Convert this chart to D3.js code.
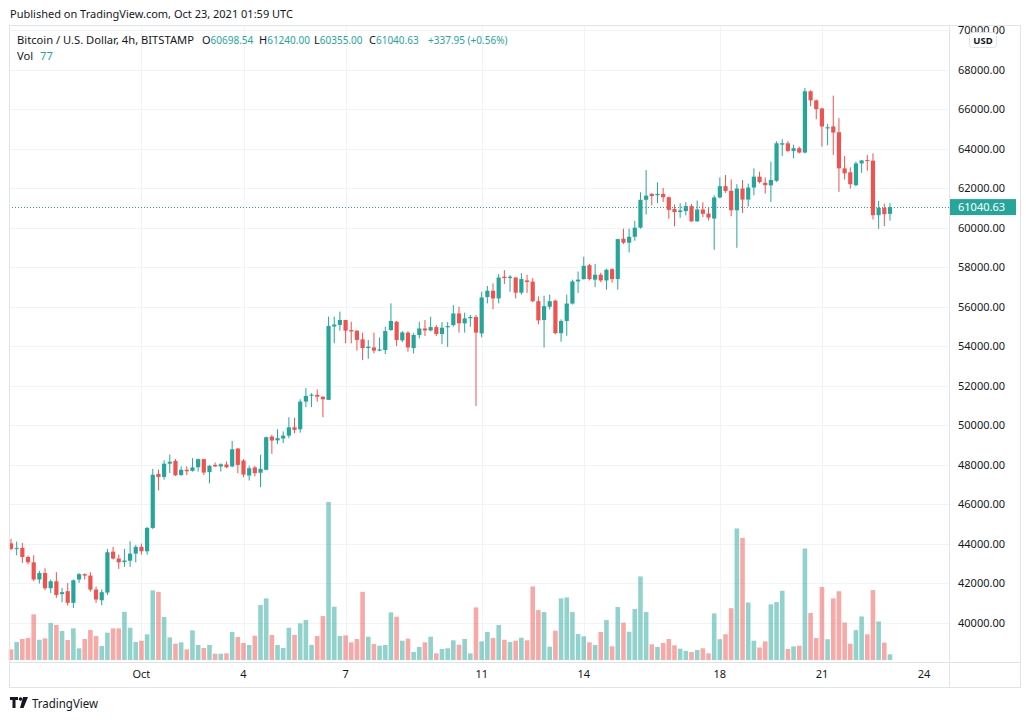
<!DOCTYPE html>
<html><head><meta charset="utf-8">
<script src="https://cdn.jsdelivr.net/npm/d3@7"></script>
<style>
body{margin:0;background:#fff;}
svg{display:block;font-family:"Noto Sans",sans-serif;}
</style>
</head><body>
<svg id="chart" width="1026" height="720"></svg>
<script>
// ---- data (4h candles, BITSTAMP BTC/USD) ----
const firstCandleUTC = Date.UTC(2021, 8, 27, 4); // Sep 27 04:00 UTC
const candleHours = 4;
const opens = [44030,43750,43800,43340,43070,42200,42530,41760,42110,41460,
41610,41020,42200,42470,42400,41690,41150,41540,43610,43260,
43080,43150,43510,43850,43630,44810,47540,47390,48060,48200,
47490,47750,47700,47880,48290,47630,48000,47920,48020,47920,
48830,48220,47460,47870,47600,47750,49430,49240,49330,49480,
49900,49800,51200,51500,51540,51450,51290,55000,55080,55330,
54820,54790,54350,53910,53940,53780,53810,54820,55240,54300,
54690,53910,54570,54900,54800,54970,54620,54960,55070,55660,
55160,55420,55480,54650,56490,56810,56420,57520,57450,57480,
56710,57330,57270,56280,55330,56000,56310,54660,55280,56160,
57280,57400,58100,57370,57620,57330,57900,57400,59440,59240,
59540,60000,61410,61710,61640,61710,61540,60940,60790,60840,
61090,60320,60920,60710,60460,61530,62100,61860,60880,61980,
61420,62030,62580,62270,62140,62370,64200,64270,63880,64020,
63800,66900,66440,66030,65020,65120,64830,63000,62800,62150,
63250,63420,63390,60630,61000,60698.54];
const highs = [44250,44120,44050,43410,43430,42640,42770,42200,42570,41780,
42030,42200,42530,42510,42570,41840,41700,43750,43850,43460,
43750,44130,43950,44020,44860,47790,47760,48230,48520,48300,
47920,47920,48340,48320,48300,48000,48120,48080,48170,49210,
48830,48290,47950,47950,48510,49430,49520,49800,49690,50410,
50390,51320,51880,51630,51820,51450,55500,55500,55750,55330,
55240,54800,54690,54320,54690,54450,54990,56170,55280,54770,
54760,54660,55240,55330,55490,55070,55220,55220,56080,56000,
55700,55590,55590,56760,57050,57180,57650,57850,57600,57480,
57700,57620,57450,56530,56560,56610,56360,55360,56610,57370,
57780,58530,58170,58170,57720,57920,57950,59440,59950,59950,
60340,61790,62910,61740,62290,62010,61570,61170,61240,61290,
61200,61370,61280,61050,61640,62540,62660,62440,62200,62410,
62230,63000,62830,62540,63340,64370,64470,64370,64200,64100,
67070,66950,66480,66050,65250,66680,65540,63630,63050,63340,
63420,63680,63760,61360,61220,61240];
const lows = [43680,43420,43040,42970,42110,42000,41660,41520,41270,41050,
40880,40760,42030,42200,41590,41020,40900,41420,43210,42740,
42840,42840,43070,43460,43460,44760,46710,47250,47590,47440,
47440,47490,47660,47660,47490,47070,47900,47660,47830,47880,
47580,47380,47210,47410,46870,47720,48560,49060,49100,49350,
49600,49630,50920,50920,51200,50410,51290,54150,54790,54150,
54150,53780,53300,53370,53640,53740,53610,54780,54010,54210,
53730,53640,54400,54520,54760,54520,54110,53970,54990,54690,
54690,54990,50980,54450,56170,55870,56170,57150,56760,56420,
56610,56700,56230,55110,53940,55860,54610,54230,54530,56110,
56700,57370,57330,57000,57240,56860,57220,56860,59170,58750,
59340,59950,60670,61120,61240,61300,60450,60070,60500,60620,
60300,60300,60530,60370,58880,61480,61760,60580,58980,60750,
61080,61640,62240,61730,61300,62320,63630,63830,63510,63760,
63760,66140,65490,64100,64170,63680,61810,62440,61980,62100,
62780,62880,60410,59950,60080,60355];
const closes = [43750,43800,43340,43070,42200,42530,41760,42110,41420,41560,
41020,42160,42470,42400,41690,41190,41560,43580,43260,43070,
43160,43510,43850,43630,44810,47500,47390,48060,48160,47470,
47750,47680,47870,48290,47610,47950,47920,48030,47880,48790,
48000,47510,47830,47580,47800,49400,49230,49350,49480,49900,
49770,51200,51490,51550,51450,51320,55030,55100,55330,54790,
54750,54320,53910,53980,53780,53840,54770,55280,54320,54700,
53940,54570,54900,54800,54970,54620,54940,55020,55660,55160,
55410,55480,54690,56470,56810,56420,57480,57450,57520,56710,
57400,57250,56280,55310,56030,56280,54660,55280,56160,57280,
57370,58070,57400,57620,57330,57870,57400,59420,59240,59540,
60000,61410,61620,61600,61710,61540,60900,60790,60870,61090,
60320,60920,60700,60510,61530,62100,61860,60880,61980,61420,
62030,62580,62310,62150,62410,64270,64270,63880,64020,63800,
66900,66440,66000,65120,65080,64810,63000,62750,62200,63250,
63400,63370,60630,61000,60680,61040.63];
const volumes = [144,243,284,297,617,274,293,500,473,392,
270,428,158,284,405,324,189,369,428,428,
652,436,243,261,347,941,922,581,306,220,
239,144,401,203,162,203,85,85,90,378,
311,230,203,328,743,833,338,203,162,436,
338,495,540,203,324,594,2137,720,324,333,
239,284,922,315,216,193,203,644,585,261,
288,108,176,239,315,90,149,158,266,207,
284,90,711,252,378,297,473,274,243,261,
301,266,995,675,648,180,396,833,846,648,
351,320,239,203,378,540,185,716,504,382,
689,1130,648,212,176,230,284,198,153,122,
108,135,158,90,630,281,348,701,1779,1651,
778,261,169,251,752,783,936,149,184,194,
1508,635,297,987,281,833,930,506,220,404,
589,348,945,521,235,77];
const priceTicks = [40000,42000,44000,46000,48000,50000,52000,54000,56000,58000,60000,62000,64000,66000,68000,70000];
const timeTickDates = ["2021-10-01","2021-10-04","2021-10-07","2021-10-11","2021-10-14","2021-10-18","2021-10-21","2021-10-24"];
const timeTickLabels = ["Oct","4","7","11","14","18","21","24"];
const lastPrice = 61040.63;
const legendTitle = "Bitcoin / U.S. Dollar, 4h, BITSTAMP";
const legendKeys = ["O","H","L","C",""];
const legendVals = ["60698.54","61240.00","60355.00","61040.63","+337.95 (+0.56%)"];
const volLabel = "Vol", volValue = "77";

// ---- styles ----
const UP = "#26a69a", DOWN = "#ef5350";
const UPV = "rgba(38,166,154,0.5)", DOWNV = "rgba(239,83,80,0.5)";
const GRID = "#f0f3fa", BORDER = "#e0e3eb", TXT = "#131722";

const svg = d3.select("#chart");
const paneL = 9, paneR = 949, paneT = 25, paneB = 662, frameR = 1020, frameB = 687;

const candles = opens.map((o, i) => ({
  t: new Date(firstCandleUTC + i * candleHours * 3600e3),
  o, h: highs[i], l: lows[i], c: closes[i], v: volumes[i]
}));

const x = d3.scaleUtc()
  .domain([new Date(firstCandleUTC), new Date(Date.UTC(2021, 9, 24, 0))])
  .range([11, 924]);
const y = d3.scaleLinear().domain([40000, 70000]).range([623, 30]);
const yv = d3.scaleLinear().domain([0, d3.max(volumes)]).range([660, 502]);

// Published text
svg.append("text").attr("x", 10).attr("y", 18)
  .attr("font-size", 11).attr("fill", TXT)
  .text("Published on TradingView.com, Oct 23, 2021 01:59 UTC");

// grid
const gGrid = svg.append("g");
gGrid.selectAll("line.h").data(priceTicks).join("line")
  .attr("x1", paneL).attr("x2", paneR)
  .attr("y1", d => Math.round(y(d)) + 0.5).attr("y2", d => Math.round(y(d)) + 0.5)
  .attr("stroke", GRID);
const tickDates = timeTickDates.map(s => new Date(s + "T00:00:00Z"));
gGrid.selectAll("line.v").data(tickDates.slice(0, -1)).join("line")
  .attr("y1", paneT).attr("y2", paneB)
  .attr("x1", d => Math.round(x(d)) + 0.5).attr("x2", d => Math.round(x(d)) + 0.5)
  .attr("stroke", GRID);

// volume
const bw = 4.6;
svg.append("g").selectAll("rect").data(candles).join("rect")
  .attr("x", d => x(d.t) - bw / 2).attr("width", bw)
  .attr("y", d => yv(d.v)).attr("height", d => yv(0) - yv(d.v))
  .attr("fill", d => d.c >= d.o ? UPV : DOWNV);

// last price dotted line
svg.append("line").attr("x1", paneL).attr("x2", paneR)
  .attr("y1", Math.round(y(lastPrice)) + 0.5).attr("y2", Math.round(y(lastPrice)) + 0.5)
  .attr("stroke", UP).attr("stroke-dasharray", "1,2");

// candles
const gC = svg.append("g");
gC.selectAll("rect.w").data(candles).join("rect")
  .attr("x", d => x(d.t) - 0.5).attr("width", 1)
  .attr("y", d => y(d.h)).attr("height", d => Math.max(1, y(d.l) - y(d.h)))
  .attr("fill", d => d.c >= d.o ? UP : DOWN);
const cw = 4.2;
gC.selectAll("rect.b").data(candles).join("rect")
  .attr("x", d => x(d.t) - cw / 2).attr("width", cw)
  .attr("y", d => y(Math.max(d.o, d.c)))
  .attr("height", d => Math.max(1, Math.abs(y(d.o) - y(d.c))))
  .attr("fill", d => d.c >= d.o ? UP : DOWN);

// frame
svg.append("rect").attr("x", paneL + 0.5).attr("y", paneT + 0.5)
  .attr("width", frameR - paneL).attr("height", frameB - paneT)
  .attr("fill", "none").attr("stroke", BORDER);
svg.append("line").attr("x1", paneR + 0.5).attr("x2", paneR + 0.5).attr("y1", paneT).attr("y2", frameB)
  .attr("stroke", BORDER);
svg.append("line").attr("x1", paneL).attr("x2", frameR).attr("y1", paneB + 0.5).attr("y2", paneB + 0.5)
  .attr("stroke", BORDER);

// price axis labels (top one sits partly under the USD badge, as in the original)
svg.append("g").selectAll("text").data(priceTicks).join("text")
  .attr("x", 958).attr("y", d => y(d) + 4)
  .attr("font-size", 11).attr("fill", TXT)
  .text(d => d3.format(".2f")(d));

// USD badge
svg.append("rect").attr("x", 969.5).attr("y", 32.5).attr("width", 27).attr("height", 15).attr("rx", 3)
  .attr("fill", "#fff").attr("stroke", BORDER);
svg.append("text").attr("x", 983).attr("y", 44).attr("text-anchor", "middle")
  .attr("font-size", 9.5).attr("font-weight", "bold").attr("fill", TXT).text("USD");

// last price label
svg.append("rect").attr("x", 950).attr("y", y(lastPrice) - 8).attr("width", 66).attr("height", 16)
  .attr("fill", UP);
svg.append("text").attr("x", 958).attr("y", y(lastPrice) + 4)
  .attr("font-size", 11).attr("fill", "#fff").text(d3.format(".2f")(lastPrice));

// time axis labels
svg.append("g").selectAll("text").data(tickDates).join("text")
  .attr("x", d => x(d)).attr("y", 678).attr("text-anchor", "middle")
  .attr("font-size", 11).attr("fill", TXT)
  .text((d, i) => timeTickLabels[i]);

// legend
svg.append("text").attr("x", 17).attr("y", 44).attr("font-size", 11.2).attr("fill", TXT).text(legendTitle);
const legendX = [202, 259, 314, 369, 428];
legendKeys.forEach((k, i) => {
  const t = svg.append("text").attr("x", legendX[i]).attr("y", 44).attr("font-size", 10).attr("fill", TXT);
  if (k) t.append("tspan").attr("font-size", 11).text(k);
  t.append("tspan").attr("fill", UP).text(legendVals[i]);
});
svg.append("text").attr("x", 17).attr("y", 60).attr("font-size", 11.2).attr("fill", TXT).text(volLabel);
svg.append("text").attr("x", 40).attr("y", 60).attr("font-size", 11.2).attr("fill", UP).text(volValue);

// TradingView logo
const logo = svg.append("g").attr("fill", TXT);
logo.append("path").attr("d", "M10,697 h8 v3 h-2.5 v8 h-3 v-8 h-2.5 Z");
logo.append("circle").attr("cx", 20.5).attr("cy", 699).attr("r", 1.8);
logo.append("path").attr("d", "M23,697 h5 l-4.5,11 h-3.5 Z");
svg.append("text").attr("x", 32).attr("y", 708).attr("font-size", 13).attr("fill", TXT)
  .attr("textLength", 66).attr("lengthAdjust", "spacingAndGlyphs").text("TradingView");
</script>
</body></html>
